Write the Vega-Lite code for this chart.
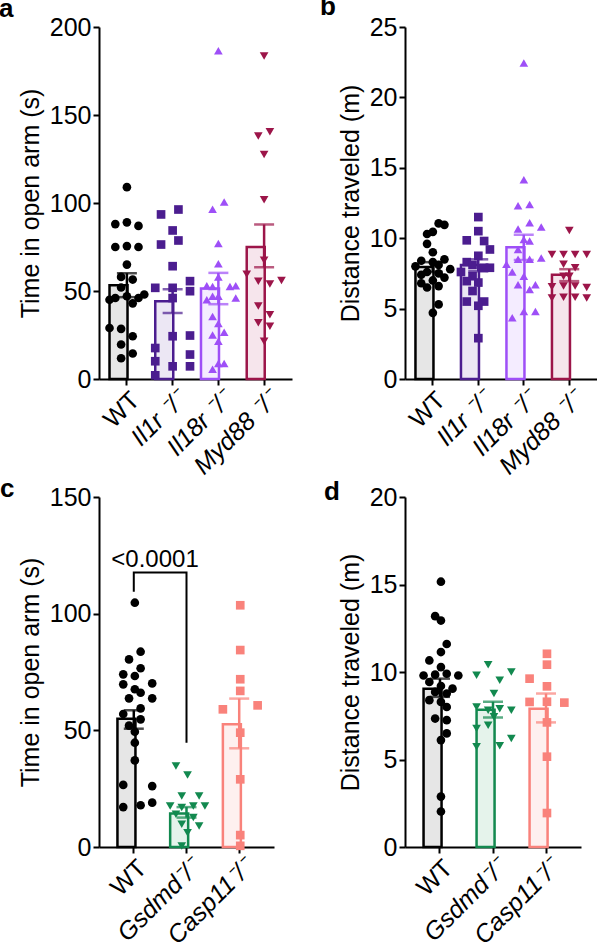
{
  "$schema": "https://vega.github.io/schema/vega-lite/v6.json",
  "background": "white",
  "padding": {"left": -1, "top": -6, "right": 0, "bottom": 0},
  "config": {
    "font": "Liberation Sans",
    "view": {"stroke": null},
    "axis": {"domainColor": "#000", "domainWidth": 2, "tickColor": "#000", "tickWidth": 2, "tickSize": 6, "labelFont": "Liberation Sans", "labelFontSize": 25, "labelColor": "#000", "titleFont": "Liberation Sans", "titleFontSize": 25, "titleFontWeight": "normal", "titleColor": "#000", "grid": false, "labelPadding": 2},
    "title": {"font": "Liberation Sans", "fontSize": 26, "fontWeight": "bold", "color": "#000", "anchor": "start", "frame": "group"},
    "point": {"filled": true, "size": 75, "opacity": 1},
    "tick": {"thickness": 2.5, "bandSize": 20}
  },
  "datasets": {
    "ptsA": [
      {"g":"WT","v":109,"l":0},{"g":"WT","v":88,"l":-2},{"g":"WT","v":89,"l":0},{"g":"WT","v":87,"l":2},
      {"g":"WT","v":75,"l":-2},{"g":"WT","v":75.5,"l":0},{"g":"WT","v":75,"l":2},{"g":"WT","v":65,"l":0},
      {"g":"WT","v":58,"l":-1},{"g":"WT","v":56.5,"l":1},{"g":"WT","v":52,"l":-1},{"g":"WT","v":47,"l":0},
      {"g":"WT","v":46,"l":-2},{"g":"WT","v":46,"l":2},{"g":"WT","v":48,"l":3},{"g":"WT","v":45,"l":-3},
      {"g":"WT","v":43,"l":1},{"g":"WT","v":29,"l":-3},{"g":"WT","v":28.5,"l":-1},{"g":"WT","v":24.3,"l":1},
      {"g":"WT","v":19.6,"l":-1},{"g":"WT","v":14.5,"l":1},{"g":"WT","v":11.8,"l":-1},
      {"g":"Il1r","v":93.5,"l":-2},{"g":"Il1r","v":96.3,"l":1},{"g":"Il1r","v":84.4,"l":0},{"g":"Il1r","v":78.7,"l":1},
      {"g":"Il1r","v":76.4,"l":-2},{"g":"Il1r","v":64.1,"l":0},{"g":"Il1r","v":51.8,"l":-3},{"g":"Il1r","v":55.6,"l":3},
      {"g":"Il1r","v":49.9,"l":3},{"g":"Il1r","v":51.8,"l":0},{"g":"Il1r","v":46,"l":0},{"g":"Il1r","v":24.3,"l":0},
      {"g":"Il1r","v":24.7,"l":3},{"g":"Il1r","v":17.6,"l":-3},{"g":"Il1r","v":13.9,"l":3},{"g":"Il1r","v":10.1,"l":-3},
      {"g":"Il1r","v":7.2,"l":0},{"g":"Il1r","v":7.2,"l":3},{"g":"Il1r","v":2.1,"l":-3},
      {"g":"Il18r","v":186.5,"l":0},{"g":"Il18r","v":100.5,"l":1},{"g":"Il18r","v":96.5,"l":-1},{"g":"Il18r","v":77,"l":0},
      {"g":"Il18r","v":65.5,"l":0},{"g":"Il18r","v":58,"l":0},{"g":"Il18r","v":53,"l":-2},{"g":"Il18r","v":52.5,"l":-1},
      {"g":"Il18r","v":52.5,"l":2},{"g":"Il18r","v":53,"l":3},{"g":"Il18r","v":47,"l":-1},{"g":"Il18r","v":47,"l":0},
      {"g":"Il18r","v":46,"l":3},{"g":"Il18r","v":45,"l":-2},{"g":"Il18r","v":35.5,"l":-1},{"g":"Il18r","v":31.5,"l":0},
      {"g":"Il18r","v":25,"l":-1},{"g":"Il18r","v":26.5,"l":1},{"g":"Il18r","v":21.5,"l":0},{"g":"Il18r","v":8.8,"l":0},
      {"g":"Il18r","v":8.8,"l":1},{"g":"Il18r","v":5.5,"l":-1},
      {"g":"Myd88","v":183.5,"l":0},{"g":"Myd88","v":138,"l":-1},{"g":"Myd88","v":140.5,"l":1},{"g":"Myd88","v":127.6,"l":0},
      {"g":"Myd88","v":101.8,"l":0},{"g":"Myd88","v":67.5,"l":0},{"g":"Myd88","v":59.5,"l":-3},{"g":"Myd88","v":55.5,"l":-1},
      {"g":"Myd88","v":54,"l":1},{"g":"Myd88","v":56,"l":3},{"g":"Myd88","v":41.5,"l":-1},{"g":"Myd88","v":36.5,"l":1},
      {"g":"Myd88","v":32,"l":-1},{"g":"Myd88","v":30,"l":1},{"g":"Myd88","v":21.5,"l":0}
    ],
    "barsA": [
      {"g":"WT","v":53.3,"lo":46.5,"hi":60.1},
      {"g":"Il1r","v":44.2,"lo":37.5,"hi":51},
      {"g":"Il18r","v":51.4,"lo":42.5,"hi":60.3},
      {"g":"Myd88","v":75,"lo":63.5,"hi":87.8}
    ],
    "ptsB": [
      {"g":"WT","v":11.05,"l":1},{"g":"WT","v":10.95,"l":2},{"g":"WT","v":10.45,"l":0},{"g":"WT","v":10.3,"l":-1},
      {"g":"WT","v":9.6,"l":-1},{"g":"WT","v":9.0,"l":0},{"g":"WT","v":8.5,"l":2},{"g":"WT","v":8.4,"l":-2},
      {"g":"WT","v":8.3,"l":0},{"g":"WT","v":8.1,"l":1},{"g":"WT","v":8.0,"l":-3},{"g":"WT","v":7.8,"l":3},
      {"g":"WT","v":7.6,"l":-1},{"g":"WT","v":7.5,"l":1},{"g":"WT","v":7.4,"l":-2},{"g":"WT","v":7.2,"l":2},
      {"g":"WT","v":7.0,"l":0},{"g":"WT","v":6.8,"l":-2},{"g":"WT","v":6.6,"l":1},{"g":"WT","v":6.5,"l":-1},
      {"g":"WT","v":5.3,"l":1},{"g":"WT","v":4.7,"l":0},
      {"g":"Il1r","v":11.5,"l":0},{"g":"Il1r","v":10.5,"l":0},{"g":"Il1r","v":9.85,"l":-2},{"g":"Il1r","v":9.8,"l":1},
      {"g":"Il1r","v":9.2,"l":2},{"g":"Il1r","v":8.75,"l":0},{"g":"Il1r","v":8.3,"l":-2},{"g":"Il1r","v":8.1,"l":-1},
      {"g":"Il1r","v":7.9,"l":1},{"g":"Il1r","v":7.9,"l":2},{"g":"Il1r","v":7.6,"l":-3},{"g":"Il1r","v":7.3,"l":-1},
      {"g":"Il1r","v":6.95,"l":-2},{"g":"Il1r","v":6.85,"l":0},{"g":"Il1r","v":6.25,"l":-1},{"g":"Il1r","v":5.5,"l":-2},
      {"g":"Il1r","v":5.5,"l":1},{"g":"Il1r","v":5.2,"l":0},{"g":"Il1r","v":2.9,"l":0},
      {"g":"Il18r","v":22.45,"l":0},{"g":"Il18r","v":14.15,"l":0},{"g":"Il18r","v":12.4,"l":1},{"g":"Il18r","v":12.3,"l":-1},
      {"g":"Il18r","v":11.1,"l":1},{"g":"Il18r","v":10.8,"l":3},{"g":"Il18r","v":10.65,"l":-1},{"g":"Il18r","v":9.9,"l":0},
      {"g":"Il18r","v":9.8,"l":1},{"g":"Il18r","v":9.2,"l":-1},{"g":"Il18r","v":8.6,"l":3},{"g":"Il18r","v":8.5,"l":1},
      {"g":"Il18r","v":8.5,"l":-1},{"g":"Il18r","v":8.15,"l":-3},{"g":"Il18r","v":7.6,"l":-2},{"g":"Il18r","v":7.3,"l":0},
      {"g":"Il18r","v":6.7,"l":-1},{"g":"Il18r","v":6.7,"l":2},{"g":"Il18r","v":6.35,"l":1},{"g":"Il18r","v":4.8,"l":0},
      {"g":"Il18r","v":4.8,"l":2},{"g":"Il18r","v":4.35,"l":-2},
      {"g":"Myd88","v":10.55,"l":0},{"g":"Myd88","v":8.85,"l":-3},{"g":"Myd88","v":8.85,"l":-1},{"g":"Myd88","v":8.85,"l":1},
      {"g":"Myd88","v":8.85,"l":3},{"g":"Myd88","v":8.15,"l":-1},{"g":"Myd88","v":7.9,"l":1},{"g":"Myd88","v":7.3,"l":-1},
      {"g":"Myd88","v":7.3,"l":0},{"g":"Myd88","v":6.55,"l":-3},{"g":"Myd88","v":6.6,"l":-1},{"g":"Myd88","v":6.6,"l":1},
      {"g":"Myd88","v":6.5,"l":3},{"g":"Myd88","v":5.75,"l":-3},{"g":"Myd88","v":5.8,"l":-1},{"g":"Myd88","v":5.8,"l":1},
      {"g":"Myd88","v":5.75,"l":3}
    ],
    "barsB": [
      {"g":"WT","v":7.95,"lo":7.6,"hi":8.3},
      {"g":"Il1r","v":8.1,"lo":7.65,"hi":8.5},
      {"g":"Il18r","v":9.35,"lo":8.45,"hi":10.25},
      {"g":"Myd88","v":7.4,"lo":6.95,"hi":7.8}
    ],
    "ptsC": [
      {"g":"WT","v":104.7,"l":0},{"g":"WT","v":83.7,"l":1},{"g":"WT","v":80.4,"l":-1},{"g":"WT","v":76.6,"l":1},
      {"g":"WT","v":74,"l":-2},{"g":"WT","v":73.3,"l":0},{"g":"WT","v":69.7,"l":-2},{"g":"WT","v":70.1,"l":3},
      {"g":"WT","v":67.6,"l":0},{"g":"WT","v":66.1,"l":1},{"g":"WT","v":63.7,"l":-1},{"g":"WT","v":63.7,"l":3},
      {"g":"WT","v":59.4,"l":1},{"g":"WT","v":57,"l":-2},{"g":"WT","v":52,"l":-1},{"g":"WT","v":54.7,"l":1},
      {"g":"WT","v":49.4,"l":0},{"g":"WT","v":44.7,"l":0},{"g":"WT","v":37.1,"l":0},{"g":"WT","v":26.6,"l":-2},
      {"g":"WT","v":26.1,"l":3},{"g":"WT","v":17.1,"l":-2},{"g":"WT","v":17.9,"l":1},{"g":"WT","v":19,"l":3},
      {"g":"Gsdmd","v":34.7,"l":-2},{"g":"Gsdmd","v":30.9,"l":0},{"g":"Gsdmd","v":21.9,"l":-1},{"g":"Gsdmd","v":21.9,"l":2},
      {"g":"Gsdmd","v":17.6,"l":-3},{"g":"Gsdmd","v":16.9,"l":-1},{"g":"Gsdmd","v":17.6,"l":1},{"g":"Gsdmd","v":17.6,"l":3},
      {"g":"Gsdmd","v":14,"l":-2},{"g":"Gsdmd","v":12.6,"l":1},{"g":"Gsdmd","v":9.7,"l":-1},{"g":"Gsdmd","v":9,"l":2},
      {"g":"Gsdmd","v":6.1,"l":0},{"g":"Gsdmd","v":0.4,"l":-1},
      {"g":"Casp11","v":103.6,"l":0},{"g":"Casp11","v":84.4,"l":0},{"g":"Casp11","v":71.9,"l":0},{"g":"Casp11","v":66.9,"l":0},
      {"g":"Casp11","v":59,"l":-3},{"g":"Casp11","v":60.7,"l":3},{"g":"Casp11","v":49,"l":0},{"g":"Casp11","v":29,"l":0},
      {"g":"Casp11","v":5.1,"l":0},{"g":"Casp11","v":0.5,"l":0}
    ],
    "barsC": [
      {"g":"WT","v":55,"lo":50.7,"hi":58.6},
      {"g":"Gsdmd","v":14.4,"lo":12.6,"hi":17.1},
      {"g":"Casp11","v":52.6,"lo":42.3,"hi":63.6}
    ],
    "bracketC": [
      {"g":"WT","v":109.4,"o":1},{"g":"WT","v":117.6,"o":2},{"g":"Gsdmd","v":117.6,"o":3},{"g":"Gsdmd","v":44.7,"o":4}
    ],
    "labelC": [{"g":"WT","v":119.8,"t":"<0.0001"}],
    "ptsD": [
      {"g":"WT","v":15.16,"l":0},{"g":"WT","v":13.19,"l":-1},{"g":"WT","v":12.94,"l":0},{"g":"WT","v":11.6,"l":1},
      {"g":"WT","v":11.14,"l":0},{"g":"WT","v":10.66,"l":-2},{"g":"WT","v":10.28,"l":0},{"g":"WT","v":9.85,"l":-1},
      {"g":"WT","v":9.8,"l":-3},{"g":"WT","v":9.9,"l":1},{"g":"WT","v":9.8,"l":3},{"g":"WT","v":9.43,"l":-2},
      {"g":"WT","v":9.2,"l":0},{"g":"WT","v":9.05,"l":2},{"g":"WT","v":8.86,"l":-1},{"g":"WT","v":8.77,"l":1},
      {"g":"WT","v":8.39,"l":-2},{"g":"WT","v":8.29,"l":0},{"g":"WT","v":8.0,"l":1},{"g":"WT","v":7.34,"l":-1},
      {"g":"WT","v":7.25,"l":1},{"g":"WT","v":6.49,"l":1},{"g":"WT","v":6.11,"l":0},{"g":"WT","v":2.88,"l":0},
      {"g":"WT","v":2.03,"l":0},
      {"g":"Gsdmd","v":10.42,"l":-1},{"g":"Gsdmd","v":9.81,"l":-3},{"g":"Gsdmd","v":10.0,"l":3},{"g":"Gsdmd","v":9.53,"l":1},
      {"g":"Gsdmd","v":8.77,"l":0},{"g":"Gsdmd","v":8.0,"l":-3},{"g":"Gsdmd","v":7.82,"l":-1},{"g":"Gsdmd","v":7.82,"l":3},
      {"g":"Gsdmd","v":7.9,"l":1},{"g":"Gsdmd","v":7.44,"l":0},{"g":"Gsdmd","v":6.77,"l":-3},{"g":"Gsdmd","v":6.96,"l":-1},
      {"g":"Gsdmd","v":6.2,"l":3},{"g":"Gsdmd","v":5.73,"l":-3},{"g":"Gsdmd","v":5.79,"l":1},
      {"g":"Casp11","v":11.04,"l":0},{"g":"Casp11","v":10.42,"l":0},{"g":"Casp11","v":9.62,"l":-3},{"g":"Casp11","v":9.18,"l":0},
      {"g":"Casp11","v":8.29,"l":-3},{"g":"Casp11","v":8.25,"l":3},{"g":"Casp11","v":8.3,"l":0},{"g":"Casp11","v":7.12,"l":0},
      {"g":"Casp11","v":5.16,"l":0},{"g":"Casp11","v":1.94,"l":0}
    ],
    "barsD": [
      {"g":"WT","v":9.05,"lo":8.58,"hi":9.62},
      {"g":"Gsdmd","v":7.85,"lo":7.4,"hi":8.3},
      {"g":"Casp11","v":7.9,"lo":7.12,"hi":8.77}
    ]
  },
  "columns": 2,
  "bounds": "flush",
  "spacing": {"row": 118, "column": 113},
  "concat": [
    {
      "width": 193, "height": 352,
      "title": {"text": "a", "dx": -100, "offset": -7},
      "encoding": {
        "x": {"field": "g", "type": "nominal", "title": null, "scale": {"domain": ["WT","Il1r","Il18r","Myd88"], "paddingInner": 0.24, "paddingOuter": 0.23},
              "axis": {"labelAngle": -45, "labelAlign": "right", "labelBaseline": "top", "labelExpr": "datum.value == 'WT' ? 'WT' : datum.value + ' ⁻/⁻'",
                       "labelFontStyle": {"condition": {"test": "datum.value == 'WT'", "value": "normal"}, "value": "italic"}}},
        "y": {"field": "v", "type": "quantitative", "title": "Time in open arm (s)", "scale": {"domain": [0, 200], "nice": false},
              "axis": {"values": [0,50,100,150,200], "titlePadding": 6}},
        "color": {"field": "g", "type": "nominal", "scale": {"domain": ["WT","Il1r","Il18r","Myd88","Gsdmd","Casp11"], "range": ["#000000","#4b1d8f","#9e4ff7","#9c1549","#12894f","#f9827b"]}, "legend": null}
      },
      "layer": [
        {
          "data": {"name": "barsA"},
          "mark": {"type": "bar", "strokeWidth": 2.5},
          "encoding": {
            "fill": {"field": "g", "type": "nominal", "scale": {"domain": ["WT","Il1r","Il18r","Myd88","Gsdmd","Casp11"], "range": ["#e6e6e6","#ece7f4","#f4ecff","#f6e5ec","#e5f3eb","#fef0ef"]}, "legend": null},
            "stroke": {"field": "g", "type": "nominal", "scale": {"domain": ["WT","Il1r","Il18r","Myd88","Gsdmd","Casp11"], "range": ["#000000","#4b1d8f","#9e4ff7","#9c1549","#12894f","#f9827b"]}, "legend": null}
          }
        },
        {
          "data": {"name": "ptsA"},
          "mark": {"type": "point"},
          "encoding": {
            "xOffset": {"field": "l", "type": "ordinal", "scale": {"domain": [-3,-2,-1,0,1,2,3], "paddingInner": 0, "paddingOuter": 0}},
            "shape": {"field": "g", "type": "nominal", "scale": {"domain": ["WT","Il1r","Il18r","Myd88","Gsdmd","Casp11"], "range": ["circle","square","triangle-up","triangle-down","triangle-down","square"]}, "legend": null}
          }
        },
        {
          "data": {"name": "barsA"},
          "mark": {"type": "rule", "strokeWidth": 2.5},
          "encoding": {"y": {"field": "lo", "type": "quantitative", "title": "Time in open arm (s)"}, "y2": {"field": "hi"}}
        },
        {
          "data": {"name": "barsA"},
          "mark": {"type": "tick", "orient": "horizontal", "size": 20},
          "encoding": {"y": {"field": "lo", "type": "quantitative", "title": "Time in open arm (s)"}}
        },
        {
          "data": {"name": "barsA"},
          "mark": {"type": "tick", "orient": "horizontal", "size": 20},
          "encoding": {"y": {"field": "hi", "type": "quantitative", "title": "Time in open arm (s)"}}
        }
      ]
    },
    {
      "width": 192, "height": 352,
      "title": {"text": "b", "dx": -85, "offset": -5},
      "encoding": {
        "x": {"field": "g", "type": "nominal", "title": null, "scale": {"domain": ["WT","Il1r","Il18r","Myd88"], "paddingInner": 0.24, "paddingOuter": 0.23},
              "axis": {"labelAngle": -45, "labelAlign": "right", "labelBaseline": "top", "labelExpr": "datum.value == 'WT' ? 'WT' : datum.value + ' ⁻/⁻'",
                       "labelFontStyle": {"condition": {"test": "datum.value == 'WT'", "value": "normal"}, "value": "italic"}}},
        "y": {"field": "v", "type": "quantitative", "title": "Distance traveled (m)", "scale": {"domain": [0, 25], "nice": false},
              "axis": {"values": [0,5,10,15,20,25], "titlePadding": 6}},
        "color": {"field": "g", "type": "nominal", "scale": {"domain": ["WT","Il1r","Il18r","Myd88","Gsdmd","Casp11"], "range": ["#000000","#4b1d8f","#9e4ff7","#9c1549","#12894f","#f9827b"]}, "legend": null}
      },
      "layer": [
        {
          "data": {"name": "barsB"},
          "mark": {"type": "bar", "strokeWidth": 2.5},
          "encoding": {
            "fill": {"field": "g", "type": "nominal", "scale": {"domain": ["WT","Il1r","Il18r","Myd88","Gsdmd","Casp11"], "range": ["#e6e6e6","#ece7f4","#f4ecff","#f6e5ec","#e5f3eb","#fef0ef"]}, "legend": null},
            "stroke": {"field": "g", "type": "nominal", "scale": {"domain": ["WT","Il1r","Il18r","Myd88","Gsdmd","Casp11"], "range": ["#000000","#4b1d8f","#9e4ff7","#9c1549","#12894f","#f9827b"]}, "legend": null}
          }
        },
        {
          "data": {"name": "ptsB"},
          "mark": {"type": "point"},
          "encoding": {
            "xOffset": {"field": "l", "type": "ordinal", "scale": {"domain": [-3,-2,-1,0,1,2,3], "paddingInner": 0, "paddingOuter": 0}},
            "shape": {"field": "g", "type": "nominal", "scale": {"domain": ["WT","Il1r","Il18r","Myd88","Gsdmd","Casp11"], "range": ["circle","square","triangle-up","triangle-down","triangle-down","square"]}, "legend": null}
          }
        },
        {
          "data": {"name": "barsB"},
          "mark": {"type": "rule", "strokeWidth": 2.5},
          "encoding": {"y": {"field": "lo", "type": "quantitative", "title": "Distance traveled (m)"}, "y2": {"field": "hi"}}
        },
        {
          "data": {"name": "barsB"},
          "mark": {"type": "tick", "orient": "horizontal", "size": 20},
          "encoding": {"y": {"field": "lo", "type": "quantitative", "title": "Distance traveled (m)"}}
        },
        {
          "data": {"name": "barsB"},
          "mark": {"type": "tick", "orient": "horizontal", "size": 20},
          "encoding": {"y": {"field": "hi", "type": "quantitative", "title": "Distance traveled (m)"}}
        }
      ]
    },
    {
      "width": 175, "height": 350,
      "title": {"text": "c", "dx": -99, "offset": -17},
      "encoding": {
        "x": {"field": "g", "type": "nominal", "title": null, "scale": {"domain": ["WT","Gsdmd","Casp11"], "paddingInner": 0.38, "paddingOuter": 0.35},
              "axis": {"labelAngle": -45, "labelAlign": "right", "labelBaseline": "top", "labelExpr": "datum.value == 'WT' ? 'WT' : datum.value + '⁻/⁻'",
                       "labelFontStyle": {"condition": {"test": "datum.value == 'WT'", "value": "normal"}, "value": "italic"}}},
        "y": {"field": "v", "type": "quantitative", "title": "Time in open arm (s)", "scale": {"domain": [0, 150], "nice": false},
              "axis": {"values": [0,50,100,150], "titlePadding": 6}},
        "color": {"field": "g", "type": "nominal", "scale": {"domain": ["WT","Il1r","Il18r","Myd88","Gsdmd","Casp11"], "range": ["#000000","#4b1d8f","#9e4ff7","#9c1549","#12894f","#f9827b"]}, "legend": null}
      },
      "layer": [
        {
          "data": {"name": "barsC"},
          "mark": {"type": "bar", "strokeWidth": 2.5},
          "encoding": {
            "fill": {"field": "g", "type": "nominal", "scale": {"domain": ["WT","Il1r","Il18r","Myd88","Gsdmd","Casp11"], "range": ["#e6e6e6","#ece7f4","#f4ecff","#f6e5ec","#e5f3eb","#fef0ef"]}, "legend": null},
            "stroke": {"field": "g", "type": "nominal", "scale": {"domain": ["WT","Il1r","Il18r","Myd88","Gsdmd","Casp11"], "range": ["#000000","#4b1d8f","#9e4ff7","#9c1549","#12894f","#f9827b"]}, "legend": null}
          }
        },
        {
          "data": {"name": "ptsC"},
          "mark": {"type": "point"},
          "encoding": {
            "xOffset": {"field": "l", "type": "ordinal", "scale": {"domain": [-3,-2,-1,0,1,2,3], "paddingInner": 0, "paddingOuter": 0}},
            "shape": {"field": "g", "type": "nominal", "scale": {"domain": ["WT","Il1r","Il18r","Myd88","Gsdmd","Casp11"], "range": ["circle","square","triangle-up","triangle-down","triangle-down","square"]}, "legend": null}
          }
        },
        {
          "data": {"name": "barsC"},
          "mark": {"type": "rule", "strokeWidth": 2.5},
          "encoding": {"y": {"field": "lo", "type": "quantitative", "title": "Time in open arm (s)"}, "y2": {"field": "hi"}}
        },
        {
          "data": {"name": "barsC"},
          "mark": {"type": "tick", "orient": "horizontal", "size": 20},
          "encoding": {"y": {"field": "lo", "type": "quantitative", "title": "Time in open arm (s)"}}
        },
        {
          "data": {"name": "barsC"},
          "mark": {"type": "tick", "orient": "horizontal", "size": 20},
          "encoding": {"y": {"field": "hi", "type": "quantitative", "title": "Time in open arm (s)"}}
        },
        {
          "data": {"name": "bracketC"},
          "mark": {"type": "line", "strokeWidth": 2},
          "encoding": {
            "color": {"value": "#000000"},
            "order": {"field": "o", "type": "quantitative"}
          }
        },
        {
          "data": {"name": "labelC"},
          "mark": {"type": "text", "fontSize": 24, "align": "center", "baseline": "alphabetic"},
          "encoding": {
            "x": {"field": "g", "type": "nominal", "title": null, "bandPosition": 1.15},
            "color": {"value": "#000000"},
            "text": {"field": "t"}
          }
        }
      ]
    },
    {
      "width": 176, "height": 350,
      "title": {"text": "d", "dx": -81, "offset": -20},
      "encoding": {
        "x": {"field": "g", "type": "nominal", "title": null, "scale": {"domain": ["WT","Gsdmd","Casp11"], "paddingInner": 0.38, "paddingOuter": 0.35},
              "axis": {"labelAngle": -45, "labelAlign": "right", "labelBaseline": "top", "labelExpr": "datum.value == 'WT' ? 'WT' : datum.value + '⁻/⁻'",
                       "labelFontStyle": {"condition": {"test": "datum.value == 'WT'", "value": "normal"}, "value": "italic"}}},
        "y": {"field": "v", "type": "quantitative", "title": "Distance traveled (m)", "scale": {"domain": [0, 20], "nice": false},
              "axis": {"values": [0,5,10,15,20], "titlePadding": 6}},
        "color": {"field": "g", "type": "nominal", "scale": {"domain": ["WT","Il1r","Il18r","Myd88","Gsdmd","Casp11"], "range": ["#000000","#4b1d8f","#9e4ff7","#9c1549","#12894f","#f9827b"]}, "legend": null}
      },
      "layer": [
        {
          "data": {"name": "barsD"},
          "mark": {"type": "bar", "strokeWidth": 2.5},
          "encoding": {
            "fill": {"field": "g", "type": "nominal", "scale": {"domain": ["WT","Il1r","Il18r","Myd88","Gsdmd","Casp11"], "range": ["#e6e6e6","#ece7f4","#f4ecff","#f6e5ec","#e5f3eb","#fef0ef"]}, "legend": null},
            "stroke": {"field": "g", "type": "nominal", "scale": {"domain": ["WT","Il1r","Il18r","Myd88","Gsdmd","Casp11"], "range": ["#000000","#4b1d8f","#9e4ff7","#9c1549","#12894f","#f9827b"]}, "legend": null}
          }
        },
        {
          "data": {"name": "ptsD"},
          "mark": {"type": "point"},
          "encoding": {
            "xOffset": {"field": "l", "type": "ordinal", "scale": {"domain": [-3,-2,-1,0,1,2,3], "paddingInner": 0, "paddingOuter": 0}},
            "shape": {"field": "g", "type": "nominal", "scale": {"domain": ["WT","Il1r","Il18r","Myd88","Gsdmd","Casp11"], "range": ["circle","square","triangle-up","triangle-down","triangle-down","square"]}, "legend": null}
          }
        },
        {
          "data": {"name": "barsD"},
          "mark": {"type": "rule", "strokeWidth": 2.5},
          "encoding": {"y": {"field": "lo", "type": "quantitative", "title": "Distance traveled (m)"}, "y2": {"field": "hi"}}
        },
        {
          "data": {"name": "barsD"},
          "mark": {"type": "tick", "orient": "horizontal", "size": 20},
          "encoding": {"y": {"field": "lo", "type": "quantitative", "title": "Distance traveled (m)"}}
        },
        {
          "data": {"name": "barsD"},
          "mark": {"type": "tick", "orient": "horizontal", "size": 20},
          "encoding": {"y": {"field": "hi", "type": "quantitative", "title": "Distance traveled (m)"}}
        }
      ]
    }
  ]
}
